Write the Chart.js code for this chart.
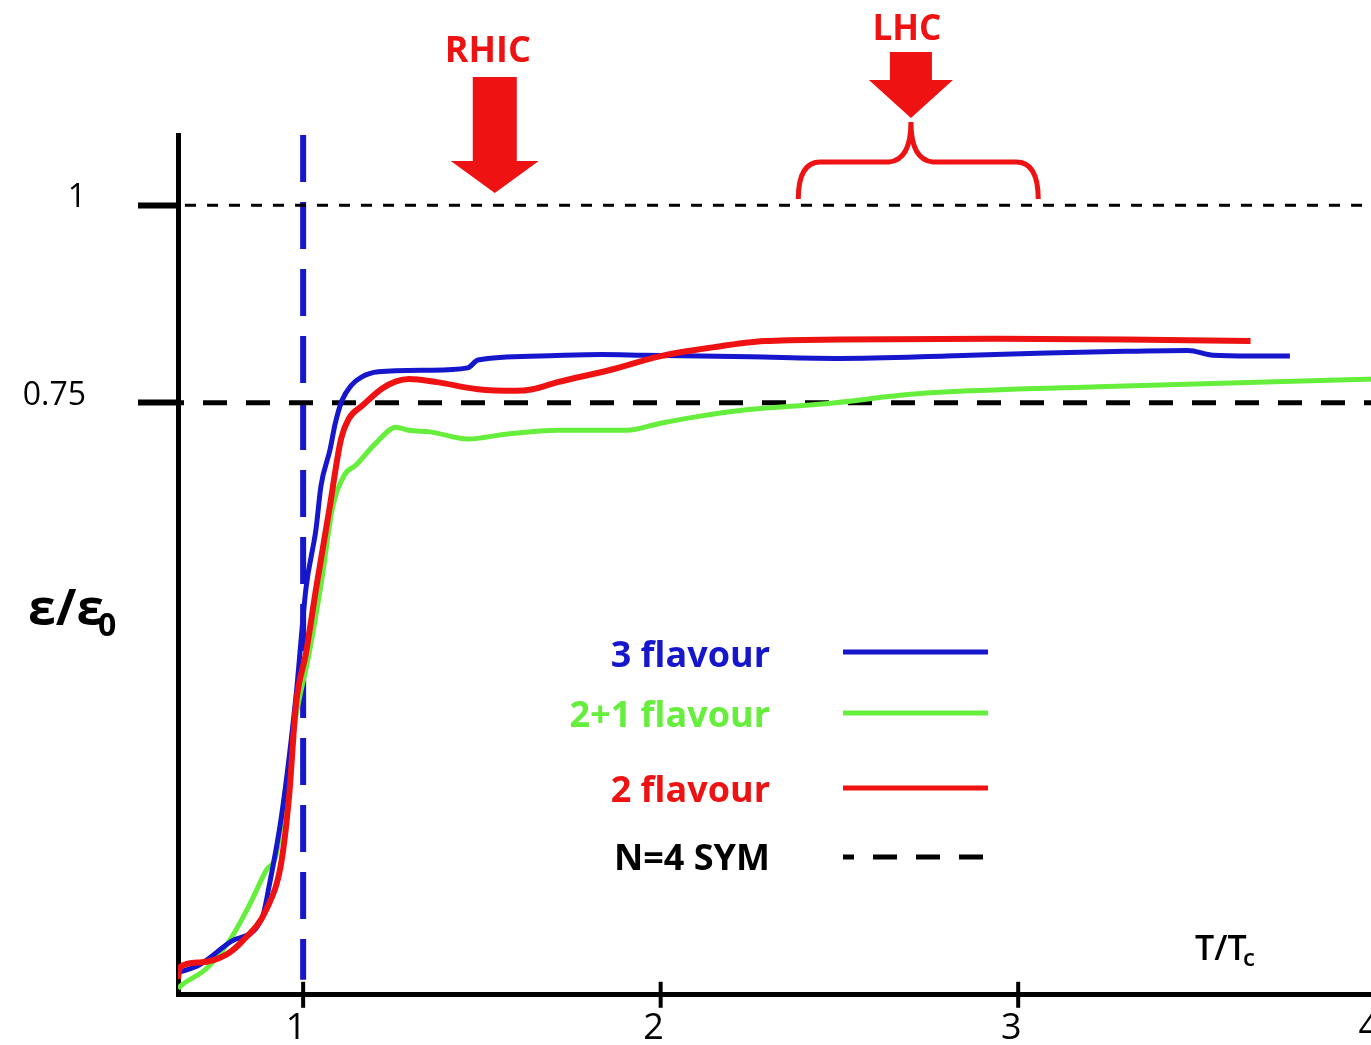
<!DOCTYPE html>
<html>
<head>
<meta charset="utf-8">
<script src="https://cdn.jsdelivr.net/npm/chart.js@4.4.1/dist/chart.umd.min.js"></script>
<style>
  html, body { margin: 0; padding: 0; background: #fff; overflow: hidden; }
  #wrap { width: 1371px; height: 1045px; overflow: hidden; }
</style>
</head>
<body>
<div id="wrap"><canvas id="chart" width="1398" height="1066"></canvas></div>
<script>
// ticks
const xTickValues = [1, 2, 3, 4];
const yTickValues = [0.75, 1];

// series (T/Tc, e/e0)
const threeFlavourX = [0.65, 0.71, 0.80, 0.885, 0.905, 0.94, 0.98, 1.008, 1.036, 1.05, 1.075, 1.09, 1.109, 1.135, 1.162, 1.21, 1.35, 1.46, 1.489, 1.662, 1.835, 1.953, 2.25, 2.5, 2.8, 3.08, 3.3, 3.475, 3.545, 3.65, 3.76];
const threeFlavourY = [0.028, 0.038, 0.068, 0.097, 0.138, 0.228, 0.378, 0.515, 0.59, 0.645, 0.69, 0.724, 0.753, 0.772, 0.782, 0.789, 0.791, 0.794, 0.804, 0.809, 0.811, 0.810, 0.808, 0.806, 0.809, 0.813, 0.815, 0.816, 0.810, 0.809, 0.809];

const twoPlusOneX = [0.65, 0.662, 0.729, 0.793, 0.849, 0.897, 0.925, 0.953, 0.98, 1.017, 1.053, 1.081, 1.115, 1.148, 1.204, 1.26, 1.296, 1.355, 1.461, 1.567, 1.712, 1.905, 2.0, 2.098, 2.24, 2.469, 2.71, 3.223, 4.0];
const twoPlusOneY = [0.008, 0.013, 0.033, 0.068, 0.113, 0.158, 0.178, 0.268, 0.353, 0.433, 0.528, 0.614, 0.658, 0.671, 0.699, 0.719, 0.715, 0.713, 0.704, 0.710, 0.715, 0.715, 0.724, 0.732, 0.741, 0.749, 0.761, 0.770, 0.780];

const twoFlavourX = [0.65, 0.655, 0.71, 0.785, 0.83, 0.897, 0.939, 0.961, 0.98, 1.008, 1.036, 1.073, 1.106, 1.128, 1.165, 1.221, 1.26, 1.296, 1.374, 1.489, 1.595, 1.642, 1.712, 1.855, 2.0, 2.145, 2.29, 2.5, 2.944, 3.3, 3.65];
const twoFlavourY = [0.02, 0.035, 0.041, 0.051, 0.068, 0.108, 0.168, 0.253, 0.368, 0.433, 0.514, 0.614, 0.704, 0.730, 0.746, 0.768, 0.777, 0.780, 0.776, 0.767, 0.765, 0.767, 0.776, 0.791, 0.809, 0.820, 0.828, 0.830, 0.831, 0.830, 0.828];

// reference lines
const refX = [0.65, 4];
const symY = [0.75, 0.75];
const unitY = [1, 1];
const tcX = [1, 1];
const tcY = [1.089, 0.019];

// legend and annotations
const legendNames = ['3 flavour', '2+1 flavour', '2 flavour', 'N=4 SYM'];
const rhicX = 1.536;
const lhcX = 2.70;
const lhcRange = [2.385, 3.056];

const BLUE = '#1616cc';
const GREEN = '#66ee3c';
const RED = '#ee1212';
const FONT = "'Open Sans', 'DejaVu Sans', sans-serif";

const zip = (xs, ys) => xs.map((x, i) => ({x: x, y: ys[i]}));

const legendStyle = [
    {color: BLUE, line: 652, base: 667, dash: []},
    {color: GREEN, line: 713, base: 727, dash: []},
    {color: RED, line: 788, base: 802, dash: []},
    {color: '#000', line: 857, base: 870, dash: [24, 19]}
];

const arrow = (ctx, cx, shaftTop, headBase, tip, shaftHalf, headHalf) => {
    ctx.beginPath();
    ctx.moveTo(cx - shaftHalf, shaftTop);
    ctx.lineTo(cx + shaftHalf, shaftTop);
    ctx.lineTo(cx + shaftHalf, headBase);
    ctx.lineTo(cx + headHalf, headBase);
    ctx.lineTo(cx, tip);
    ctx.lineTo(cx - headHalf, headBase);
    ctx.lineTo(cx - shaftHalf, headBase);
    ctx.closePath();
    ctx.fill();
}

const decorations = {
    id: 'decorations',
    afterDraw(chart) {
        const {ctx} = chart;
        const x = chart.scales.x;
        const bottom = chart.chartArea.bottom;
        ctx.save();

        // x ticks crossing the axis
        ctx.strokeStyle = '#000';
        ctx.lineWidth = 4;
        xTickValues.forEach(v => {
            const px = x.getPixelForValue(v);
            ctx.beginPath();
            ctx.moveTo(px, bottom - 13);
            ctx.lineTo(px, bottom + 13);
            ctx.stroke();
        });

        // axis titles
        ctx.fillStyle = '#000';
        ctx.textBaseline = 'alphabetic';
        ctx.textAlign = 'left';
        ctx.font = 'bold 50px ' + FONT;
        ctx.fillText('ε/ε', 28, 625);
        ctx.font = 'bold 32px ' + FONT;
        ctx.fillText('0', 98, 636);
        ctx.font = '600 34px ' + FONT;
        ctx.fillText('T/T', 1195, 960);
        ctx.font = '600 24px ' + FONT;
        ctx.fillText('c', 1243, 966);

        // legend
        legendNames.forEach((name, i) => {
            const s = legendStyle[i];
            ctx.font = 'bold 36px ' + FONT;
            ctx.textAlign = 'right';
            ctx.fillStyle = s.color;
            ctx.fillText(name, 770, s.base);
            ctx.strokeStyle = s.color;
            ctx.lineWidth = 5;
            ctx.setLineDash(s.dash);
            ctx.lineDashOffset = 13;
            ctx.beginPath();
            ctx.moveTo(843, s.line);
            ctx.lineTo(988, s.line);
            ctx.stroke();
        });
        ctx.setLineDash([]);

        // RHIC arrow
        ctx.fillStyle = RED;
        ctx.strokeStyle = RED;
        const rx = x.getPixelForValue(rhicX);
        ctx.textAlign = 'center';
        ctx.font = 'bold 36px ' + FONT;
        ctx.fillText('RHIC', rx - 7, 62);
        arrow(ctx, rx, 77, 161, 193, 22, 44);

        // LHC arrow and brace
        const lx = x.getPixelForValue(lhcX);
        ctx.font = 'bold 35px ' + FONT;
        ctx.fillText('LHC', lx - 4, 40);
        arrow(ctx, lx, 52, 80, 118, 21, 42);
        const b0 = x.getPixelForValue(lhcRange[0]);
        const b1 = x.getPixelForValue(lhcRange[1]);
        ctx.lineWidth = 5;
        ctx.beginPath();
        ctx.moveTo(b0, 199);
        ctx.quadraticCurveTo(b0, 162, b0 + 22, 162);
        ctx.lineTo(lx - 22, 162);
        ctx.quadraticCurveTo(lx, 160, lx, 122);
        ctx.quadraticCurveTo(lx, 160, lx + 22, 162);
        ctx.lineTo(b1 - 22, 162);
        ctx.quadraticCurveTo(b1, 162, b1, 199);
        ctx.stroke();

        ctx.restore();
    }
};

const lineSet = (label, data, color, width) => ({
    label: label,
    data: data,
    borderColor: color,
    borderWidth: width,
    cubicInterpolationMode: 'monotone',
    pointRadius: 0
});

new Chart(document.getElementById('chart'), {
    type: 'line',
    data: {
        datasets: [
            lineSet('2 flavour', zip(twoFlavourX, twoFlavourY), RED, 6),
            lineSet('3 flavour', zip(threeFlavourX, threeFlavourY), BLUE, 5),
            lineSet('2+1 flavour', zip(twoPlusOneX, twoPlusOneY), GREEN, 5),
            {label: 'N=4 SYM', data: zip(refX, symY), borderColor: '#000', borderWidth: 5,
                borderDash: [24, 19], borderDashOffset: 18, pointRadius: 0},
            {label: 'unit', data: zip(refX, unitY), borderColor: '#000', borderWidth: 3,
                borderDash: [11, 11], borderDashOffset: 15, pointRadius: 0},
            {label: 'Tc', data: zip(tcX, tcY), borderColor: BLUE, borderWidth: 6,
                borderDash: [47, 20], pointRadius: 0}
        ]
    },
    options: {
        responsive: false,
        animation: false,
        devicePixelRatio: 1,
        layout: {
            padding: {top: 135, right: 0, left: 0, bottom: 0}
        },
        plugins: {
            legend: {display: false},
            tooltip: {enabled: false}
        },
        scales: {
            x: {
                type: 'linear',
                min: 0.65,
                max: 4,
                grid: {display: false, drawTicks: false},
                border: {display: true, width: 5, color: '#000'},
                ticks: {
                    autoSkip: false,
                    padding: 12,
                    labelOffset: -7,
                    color: '#000',
                    font: {family: FONT, size: 36},
                    callback: v => String(v)
                },
                afterBuildTicks: axis => {
                    axis.ticks = xTickValues.map(v => ({value: v}));
                },
                afterFit: axis => {
                    axis.height = 50;
                }
            },
            y: {
                type: 'linear',
                min: 0,
                max: 1.089,
                grid: {
                    drawOnChartArea: false,
                    drawTicks: true,
                    tickLength: 40,
                    tickWidth: 6,
                    tickColor: '#000'
                },
                border: {display: true, width: 5, color: '#000'},
                ticks: {
                    autoSkip: false,
                    padding: 52,
                    labelOffset: -7,
                    color: '#000',
                    font: {family: FONT, size: 32},
                    callback: v => String(v)
                },
                afterBuildTicks: axis => {
                    axis.ticks = yTickValues.map(v => ({value: v}));
                },
                afterFit: axis => {
                    axis.width = 178;
                }
            }
        }
    },
    plugins: [decorations]
});
</script>
</body>
</html>
